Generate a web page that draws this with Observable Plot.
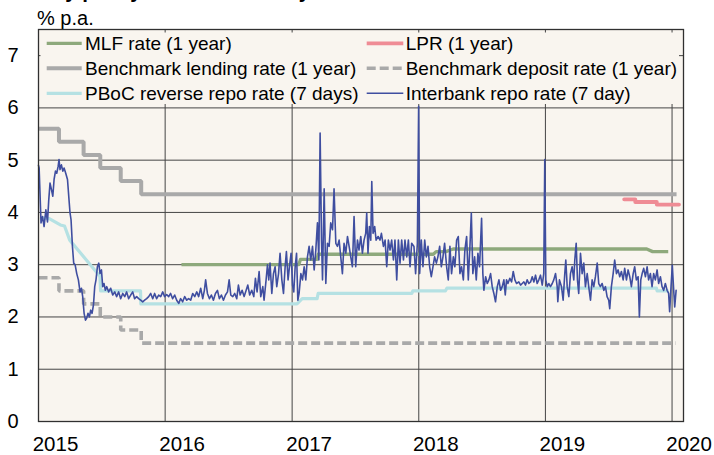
<!DOCTYPE html>
<html><head><meta charset="utf-8">
<script src="https://cdn.jsdelivr.net/npm/d3@7"></script>
<script src="https://cdn.jsdelivr.net/npm/@observablehq/plot@0.6"></script>
<style>
body{margin:0;background:#fff;font-family:"Liberation Sans",Arial,sans-serif;}
#wrap{position:relative;width:714px;height:455px;overflow:hidden;}
#title{position:absolute;left:39px;top:-19px;font:bold 20.5px/20.5px "Liberation Sans",Arial,sans-serif;white-space:nowrap;color:#000;}
#unit{position:absolute;left:37px;top:8px;font:20px/20px "Liberation Sans",Arial,sans-serif;color:#000;}
#wrap svg{position:absolute;left:0;top:0;}
</style></head>
<body><div id="wrap"><div id="title">Key policy rates and money market rates</div><div id="unit">% p.a.</div></div>
<script>
// ---- data ----
const stepDates = ["2015-01-01","2015-03-01","2015-05-11","2015-06-28","2015-08-26","2015-10-24"];
const lendingRate = [5.6,5.35,5.1,4.85,4.6,4.35];
const depositRate = [2.75,2.5,2.25,2.0,1.75,1.5];
const lendingEnd = "2020-01-14";
const depositEnd = "2020-01-11";

const reverseRepoDates = ["2015-01-05","2015-02-01","2015-03-05","2015-03-17","2015-04-01","2015-06-27","2015-06-29","2015-10-22","2015-10-23","2017-01-15","2017-01-30","2017-03-14","2017-03-17","2017-12-12","2017-12-15","2018-03-19","2018-03-23","2019-11-17","2019-11-19","2019-12-22"];
const reverseRepoRate = [3.9,3.88,3.76,3.74,3.47,2.78,2.5,2.5,2.25,2.25,2.35,2.35,2.45,2.45,2.5,2.5,2.55,2.55,2.5,2.5];

const mlfDates = ["2016-02-17","2017-01-20","2017-01-25","2017-03-14","2017-03-17","2018-02-12","2018-02-20","2018-03-20","2018-04-10","2019-10-20","2019-11-06","2019-12-21"];
const mlfRate = [3.0,3.0,3.1,3.1,3.2,3.2,3.25,3.25,3.3,3.3,3.25,3.25];

const lprDates = ["2019-08-16","2019-09-17","2019-11-18","2020-01-21"];
const lprRate = [4.25,4.2,4.15,4.15];

// interbank 7-day repo rate: [decimal year, % p.a.]
const interbankRepo = [
[2015.000,4.9],[2015.005,4.85],[2015.020,3.8],[2015.032,3.92],[2015.044,3.73],[2015.058,4.05],[2015.071,3.82],[2015.081,4.24],[2015.091,4.56],[2015.103,4.43],[2015.113,4.31],[2015.123,4.63],[2015.134,4.79],[2015.144,4.75],[2015.155,4.88],[2015.162,5.01],[2015.170,4.82],[2015.181,4.91],[2015.192,4.79],[2015.202,4.85],[2015.215,4.75],[2015.229,4.63],[2015.241,4.24],[2015.249,3.99],[2015.257,3.86],[2015.268,3.35],[2015.278,3.03],[2015.289,3.0],[2015.302,2.83],[2015.315,2.71],[2015.328,2.48],[2015.339,2.55],[2015.349,2.39],[2015.360,2.07],[2015.371,1.94],[2015.381,1.98],[2015.391,2.07],[2015.402,2.0],[2015.412,2.13],[2015.423,2.07],[2015.434,2.23],[2015.444,2.58],[2015.454,2.71],[2015.465,2.96],[2015.476,3.03],[2015.486,2.83],[2015.497,2.9],[2015.507,2.58],[2015.517,2.64],[2015.528,2.51],[2015.539,2.58],[2015.554,2.48],[2015.570,2.55],[2015.586,2.42],[2015.602,2.48],[2015.617,2.39],[2015.633,2.48],[2015.649,2.35],[2015.665,2.45],[2015.681,2.39],[2015.696,2.48],[2015.712,2.35],[2015.728,2.42],[2015.744,2.48],[2015.759,2.35],[2015.775,2.39],[2015.791,2.35],[2015.807,2.32],[2015.823,2.29],[2015.838,2.32],[2015.854,2.35],[2015.870,2.39],[2015.886,2.45],[2015.902,2.35],[2015.917,2.45],[2015.933,2.35],[2015.949,2.42],[2015.965,2.39],[2015.981,2.48],[2015.996,2.39],
[2016.012,2.43],[2016.028,2.39],[2016.043,2.45],[2016.059,2.35],[2016.075,2.42],[2016.091,2.32],[2016.107,2.26],[2016.122,2.35],[2016.138,2.29],[2016.154,2.39],[2016.170,2.32],[2016.185,2.35],[2016.201,2.32],[2016.217,2.45],[2016.233,2.39],[2016.249,2.48],[2016.264,2.39],[2016.280,2.55],[2016.296,2.35],[2016.309,2.51],[2016.319,2.71],[2016.333,2.45],[2016.349,2.35],[2016.364,2.42],[2016.380,2.32],[2016.396,2.45],[2016.412,2.51],[2016.427,2.35],[2016.443,2.42],[2016.459,2.32],[2016.475,2.42],[2016.491,2.48],[2016.504,2.71],[2016.517,2.42],[2016.533,2.39],[2016.548,2.45],[2016.564,2.35],[2016.577,2.61],[2016.591,2.42],[2016.606,2.51],[2016.622,2.39],[2016.638,2.51],[2016.651,2.61],[2016.666,2.42],[2016.682,2.51],[2016.698,2.39],[2016.711,2.74],[2016.724,2.48],[2016.740,2.87],[2016.753,2.39],[2016.769,2.58],[2016.779,2.32],[2016.795,2.71],[2016.806,3.0],[2016.816,2.71],[2016.826,3.03],[2016.840,2.45],[2016.853,2.83],[2016.866,2.96],[2016.879,2.58],[2016.893,2.83],[2016.905,3.22],[2016.919,2.71],[2016.932,2.45],[2016.945,2.96],[2016.955,3.25],[2016.968,2.71],[2016.982,3.03],[2016.992,3.22],
[2017.003,2.61],[2017.013,2.48],[2017.024,2.96],[2017.035,3.22],[2017.045,2.32],[2017.055,2.45],[2017.069,2.83],[2017.082,2.71],[2017.095,2.96],[2017.108,2.71],[2017.121,3.15],[2017.134,3.35],[2017.147,3.09],[2017.161,3.35],[2017.174,2.9],[2017.187,3.28],[2017.200,3.8],[2017.211,3.09],[2017.221,5.52],[2017.232,3.47],[2017.240,2.71],[2017.253,4.45],[2017.266,2.64],[2017.279,3.41],[2017.292,3.35],[2017.305,3.8],[2017.319,3.67],[2017.331,4.45],[2017.345,3.41],[2017.358,3.35],[2017.371,3.47],[2017.384,3.15],[2017.397,2.83],[2017.410,3.41],[2017.424,3.22],[2017.437,3.54],[2017.450,3.35],[2017.463,3.15],[2017.476,2.96],[2017.489,3.92],[2017.502,2.96],[2017.516,3.47],[2017.528,3.28],[2017.542,3.54],[2017.555,3.22],[2017.568,3.47],[2017.581,3.6],[2017.589,3.99],[2017.599,3.22],[2017.610,3.73],[2017.621,3.47],[2017.629,4.59],[2017.639,3.6],[2017.652,3.73],[2017.663,3.47],[2017.679,3.54],[2017.694,3.47],[2017.705,3.6],[2017.721,3.35],[2017.734,3.47],[2017.747,2.96],[2017.760,3.47],[2017.773,3.28],[2017.786,3.47],[2017.800,3.09],[2017.812,3.47],[2017.826,2.71],[2017.839,3.47],[2017.852,3.03],[2017.865,3.47],[2017.879,3.09],[2017.891,3.47],[2017.905,3.15],[2017.918,3.47],[2017.931,2.96],[2017.944,3.41],[2017.962,3.35],[2017.975,2.83],[2017.989,3.41],[2017.999,6.03],
[2018.007,2.83],[2018.020,3.47],[2018.033,2.96],[2018.047,3.47],[2018.060,3.15],[2018.073,3.35],[2018.086,2.96],[2018.099,2.77],[2018.112,2.96],[2018.125,3.15],[2018.139,3.03],[2018.151,3.15],[2018.165,3.35],[2018.178,2.96],[2018.191,3.15],[2018.204,3.41],[2018.220,2.96],[2018.233,2.71],[2018.246,3.35],[2018.259,2.83],[2018.273,3.15],[2018.285,2.96],[2018.299,3.47],[2018.312,3.54],[2018.325,2.83],[2018.338,2.96],[2018.352,2.71],[2018.364,3.28],[2018.378,3.54],[2018.391,2.71],[2018.404,3.35],[2018.415,3.99],[2018.427,2.83],[2018.441,3.15],[2018.454,2.71],[2018.467,3.22],[2018.480,2.96],[2018.496,3.89],[2018.506,2.83],[2018.514,2.51],[2018.528,2.77],[2018.541,2.64],[2018.554,2.71],[2018.567,2.83],[2018.580,2.58],[2018.593,2.45],[2018.606,2.29],[2018.620,2.58],[2018.633,2.71],[2018.646,2.51],[2018.659,2.58],[2018.672,2.71],[2018.683,2.42],[2018.693,2.71],[2018.704,2.64],[2018.719,2.74],[2018.733,2.67],[2018.746,2.87],[2018.759,2.71],[2018.772,2.64],[2018.790,2.67],[2018.804,2.61],[2018.817,2.64],[2018.830,2.67],[2018.843,2.61],[2018.856,2.71],[2018.869,2.64],[2018.883,2.67],[2018.896,2.77],[2018.909,2.67],[2018.922,2.8],[2018.935,2.64],[2018.948,2.71],[2018.961,2.8],[2018.975,2.61],[2018.987,2.83],[2018.995,5.01],
[2019.003,2.71],[2019.014,2.58],[2019.027,2.64],[2019.040,2.58],[2019.054,2.64],[2019.066,2.71],[2019.080,2.83],[2019.093,2.58],[2019.098,2.29],[2019.111,2.71],[2019.127,2.58],[2019.140,2.32],[2019.153,2.83],[2019.161,3.09],[2019.172,2.58],[2019.185,2.39],[2019.198,2.83],[2019.211,2.96],[2019.224,2.71],[2019.232,3.09],[2019.243,3.41],[2019.253,2.71],[2019.263,2.45],[2019.277,3.22],[2019.290,2.83],[2019.303,3.03],[2019.316,2.58],[2019.330,2.83],[2019.342,2.58],[2019.356,2.32],[2019.369,2.71],[2019.382,2.58],[2019.395,2.77],[2019.409,3.03],[2019.421,2.64],[2019.434,2.58],[2019.448,2.64],[2019.461,2.51],[2019.474,2.58],[2019.487,2.39],[2019.500,2.32],[2019.508,2.16],[2019.521,2.58],[2019.535,2.83],[2019.547,3.09],[2019.561,2.83],[2019.574,2.9],[2019.587,2.77],[2019.600,2.87],[2019.614,2.71],[2019.626,2.93],[2019.640,2.71],[2019.653,2.9],[2019.666,2.77],[2019.679,2.58],[2019.693,2.83],[2019.705,2.96],[2019.718,2.71],[2019.732,2.77],[2019.742,2.0],[2019.753,2.71],[2019.764,2.83],[2019.776,2.93],[2019.790,2.77],[2019.803,2.96],[2019.815,2.71],[2019.829,2.83],[2019.842,2.58],[2019.855,2.83],[2019.868,2.71],[2019.882,2.9],[2019.894,2.64],[2019.908,2.77],[2019.921,2.58],[2019.934,2.51],[2019.947,2.64],[2019.961,2.51],[2019.973,2.45],[2019.981,2.1],[2019.992,2.58],[2020.002,2.99],[2020.013,2.51],[2020.021,2.19],[2020.032,2.51]
];

const yearTicks = [2015,2016,2017,2018,2019,2020];
const yTicks = [0,1,2,3,4,5,6,7];
const legendItems = [
  {label:"MLF rate (1 year)", key:"mlf"},
  {label:"LPR (1 year)", key:"lpr"},
  {label:"Benchmark lending rate (1 year)", key:"lending"},
  {label:"Benchmark deposit rate (1 year)", key:"deposit"},
  {label:"PBoC reverse repo rate (7 days)", key:"reverse"},
  {label:"Interbank repo rate (7 day)", key:"interbank"}
];

// ---- styles ----
const S = {
  mlf:{stroke:"#8ea97c", strokeWidth:3.3},
  lpr:{stroke:"#ef8c95", strokeWidth:3.8},
  lending:{stroke:"#a9a9a9", strokeWidth:4},
  deposit:{stroke:"#a9a9a9", strokeWidth:3.6, strokeDasharray:"9,4"},
  reverse:{stroke:"#b5e1e3", strokeWidth:3.2},
  interbank:{stroke:"#3f4ea0", strokeWidth:1.6}
};
const bg = "#f9f5ef";

// ---- helpers ----
const iso = s => new Date(s + "T00:00:00Z");
const fromDecimal = t => { const y = Math.floor(t); const a = Date.UTC(y,0,1), b = Date.UTC(y+1,0,1); return new Date(a + (t - y)*(b - a)); };
const stepSeries = (dates, vals, end) => { const r = dates.map((d,i)=>({date:iso(d), v:vals[i]})); if (end) r.push({date:iso(end), v:vals[vals.length-1]}); return r; };
const pairs = (dates, vals) => dates.map((d,i)=>({date:iso(d), v:vals[i]}));

const lending = stepSeries(stepDates, lendingRate, lendingEnd);
const deposit = stepSeries(stepDates, depositRate, depositEnd);
const reverse = pairs(reverseRepoDates, reverseRepoRate);
const mlf = pairs(mlfDates, mlfRate);
const lpr = pairs(lprDates, lprRate);
const interbank = interbankRepo.map(([t,v]) => ({date:fromDecimal(t), v}));
const xTickDates = yearTicks.map(y => new Date(Date.UTC(y,0,1)));

const chart = Plot.plot({
  width:714, height:455,
  marginTop:29, marginBottom:34, marginLeft:38, marginRight:31,
  style:{fontFamily:'"Liberation Sans", Arial, sans-serif', fontSize:"20px", color:"#000", background:"transparent"},
  x:{type:"utc", domain:[iso("2015-01-01"), iso("2020-02-03")]},
  y:{domain:[0,7.5]},
  marks:[
    Plot.frame({fill:bg, stroke:null}),
    Plot.gridY({ticks:yTicks.slice(1), stroke:"#454545", strokeOpacity:1, strokeWidth:1}),
    Plot.gridX({ticks:xTickDates.slice(1), stroke:"#454545", strokeOpacity:1, strokeWidth:1}),
    Plot.line(lending, {x:"date", y:"v", curve:"step-after", ...S.lending, strokeLinecap:"butt", strokeLinejoin:"miter"}),
    Plot.line(deposit, {x:"date", y:"v", curve:"step-after", ...S.deposit, strokeLinecap:"butt", strokeLinejoin:"miter"}),
    Plot.line(reverse, {x:"date", y:"v", ...S.reverse, strokeLinecap:"butt"}),
    Plot.line(mlf, {x:"date", y:"v", ...S.mlf, strokeLinecap:"butt"}),
    Plot.line(lpr, {x:"date", y:"v", curve:"step-after", ...S.lpr, strokeLinecap:"round"}),
    Plot.line(interbank, {x:"date", y:"v", ...S.interbank, strokeLinejoin:"round"}),
    Plot.frame({stroke:"#303030", strokeWidth:1.3}),
    Plot.axisY({ticks:yTicks, tickSize:0, tickPadding:20, label:null, fontSize:20}),
    Plot.axisX({ticks:xTickDates, tickFormat:d3.utcFormat("%Y"), tickSize:0, tickPadding:15, dx:17, label:null, fontSize:20.5})
  ]
});
const wrap = document.getElementById("wrap");
wrap.appendChild(chart);

// ---- legend overlay ----
const lg = d3.select(wrap).append("svg").attr("width",714).attr("height",455)
  .style("pointer-events","none").attr("font-family",'"Liberation Sans", Arial, sans-serif');
lg.append("rect").attr("x",40.5).attr("y",32.5).attr("width",638.5).attr("height",71.5).attr("fill",bg);
const colX = [[46.7,81.7,85],[366.7,403.3,405.7]];
const rowY = [43.3,68.3,93.3];
legendItems.forEach((it,i) => {
  const c = colX[i%2], y = rowY[Math.floor(i/2)], s = S[it.key];
  lg.append("line").attr("x1",c[0]).attr("x2",c[1]).attr("y1",y).attr("y2",y)
    .attr("stroke",s.stroke).attr("stroke-width",s.strokeWidth)
    .attr("stroke-dasharray", s.strokeDasharray || null);
  lg.append("text").attr("x",c[2]).attr("y",y+6.3).attr("font-size",19).attr("fill","#000").text(it.label);
});
</script></body></html>
